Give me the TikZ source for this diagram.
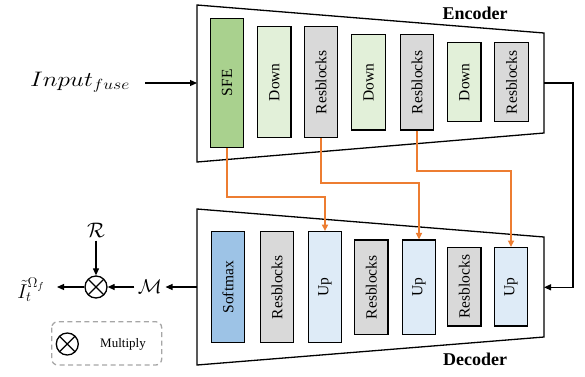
\RequirePackage{fix-cm}
\documentclass[tikz,border=0pt]{standalone}
\usepackage{fontspec}
\setmainfont{Liberation Serif}
\usetikzlibrary{arrows.meta}
\definecolor{sfeg}{HTML}{A9D18E}
\definecolor{downg}{HTML}{E2F0D9}
\definecolor{resg}{HTML}{D9D9D9}
\definecolor{softb}{HTML}{9DC3E6}
\definecolor{upb}{HTML}{DEEBF7}
\definecolor{orng}{HTML}{ED7D31}
\definecolor{legc}{HTML}{A6A6A6}
\begin{document}
\begin{tikzpicture}[x=1pt,y=-1pt,
  blk/.style={draw=black, line width=1.3pt, minimum width=33.5pt, inner sep=0pt, font=\fontsize{15.5}{18}\selectfont},
  trap/.style={draw=black, line width=1.3pt},
  arr/.style={line width=1.2pt, -{Triangle[length=7pt,width=6pt]}},
  oarr/.style={draw=orng, line width=1.7pt, -{Triangle[length=6.5pt,width=6pt]}},
  ttl/.style={font=\fontsize{18}{20}\selectfont\bfseries},
  mul/.style={draw=black, line width=1.3pt, circle, minimum size=22pt, inner sep=0pt,
    path picture={\draw[line width=1.3pt] (path picture bounding box.south west) -- (path picture bounding box.north east)
      (path picture bounding box.north west) -- (path picture bounding box.south east);}}
]
\useasboundingbox (0,0) rectangle (585,376);

% Encoder trapezoid
\draw[trap] (197,5) -- (544,33) -- (544,133) -- (197,162) -- cycle;
\node[ttl] (enc) at (475,13) {Encoder};
% Decoder trapezoid
\draw[trap] (197,209) -- (544,237) -- (544,337) -- (197,365) -- cycle;
\node[ttl] (dec) at (475,359) {Decoder};

% Encoder blocks
\node[blk, fill=sfeg, minimum height=129pt] (sfe) at (227,82.8) {\rotatebox{90}{SFE}};
\node[blk, fill=downg, minimum height=111pt] (d1) at (274.3,82.2) {\rotatebox{90}{Down}};
\node[blk, fill=resg, minimum height=111pt] (r1) at (321,82.2) {\rotatebox{90}{Resblocks}};
\node[blk, fill=downg, minimum height=95.3pt] (d2) at (368.5,82.3) {\rotatebox{90}{Down}};
\node[blk, fill=resg, minimum height=95.3pt] (r2) at (417,82.3) {\rotatebox{90}{Resblocks}};
\node[blk, fill=downg, minimum height=79pt] (d3) at (464.3,82.2) {\rotatebox{90}{Down}};
\node[blk, fill=resg, minimum height=79pt] (r3) at (511.5,82.2) {\rotatebox{90}{Resblocks}};

% Decoder blocks
\node[blk, fill=softb, minimum height=111pt] (sm) at (228,287.2) {\rotatebox{90}{Softmax}};
\node[blk, fill=resg, minimum height=111pt] (dr1) at (277,287.2) {\rotatebox{90}{Resblocks}};
\node[blk, fill=upb, minimum height=111pt] (u1) at (325,287.2) {\rotatebox{90}{Up}};
\node[blk, fill=resg, minimum height=94.3pt] (dr2) at (371.3,287.2) {\rotatebox{90}{Resblocks}};
\node[blk, fill=upb, minimum height=94.3pt] (u2) at (419,287.2) {\rotatebox{90}{Up}};
\node[blk, fill=resg, minimum height=78.3pt] (dr3) at (464.3,286.8) {\rotatebox{90}{Resblocks}};
\node[blk, fill=upb, minimum height=78.3pt] (u3) at (511,286.8) {\rotatebox{90}{Up}};

% Skip connections
\draw[oarr] (sfe.south) |- (325,197) -- (u1.north);
\draw[oarr] (r1.south) |- (419,183) -- (u2.north);
\draw[oarr] (r2.south) |- (511,171) -- (u3.north);

% Input
\node (inp) at (80,82) {\fontsize{21}{24}\selectfont\scalebox{1.2}[1]{$Input_{fuse}$}};
\coordinate (encin) at (197,83);
\draw[arr] (145,83) -- (encin);

% Encoder to decoder
\coordinate (encout) at (544,83);
\coordinate (decin) at (544,287.3);
\draw[arr] (encout) -- (573,83) -- (573,287.3) -- (decin);

% Output side
\coordinate (decout) at (197,287);
\node (m) at (150,287) {\fontsize{20}{22}\selectfont $\mathcal{M}$};
\node[mul] (x) at (96,287) {};
\node (r) at (96,230) {\fontsize{21}{22}\selectfont $\mathcal{R}$};
\node (out) at (31,290) {\fontsize{20}{22}\selectfont $\tilde{I}_t^{\Omega_f}$};
\draw[arr] (decout) -- (m.east);
\draw[arr] (m.west) -- (x.east);
\draw[arr] (r.south) -- (x.north);
\draw[arr] (x.west) -- (57,287);

% Legend
\draw[draw=legc, line width=1.3pt, dash pattern=on 5pt off 3.5pt, rounded corners=6pt] (51.7,321.7) rectangle (161.7,365);
\node[mul] (lx) at (67.3,344) {};
\node[font=\fontsize{13}{15}\selectfont] (lt) at (123,344) {Multiply};
\end{tikzpicture}
\end{document}
